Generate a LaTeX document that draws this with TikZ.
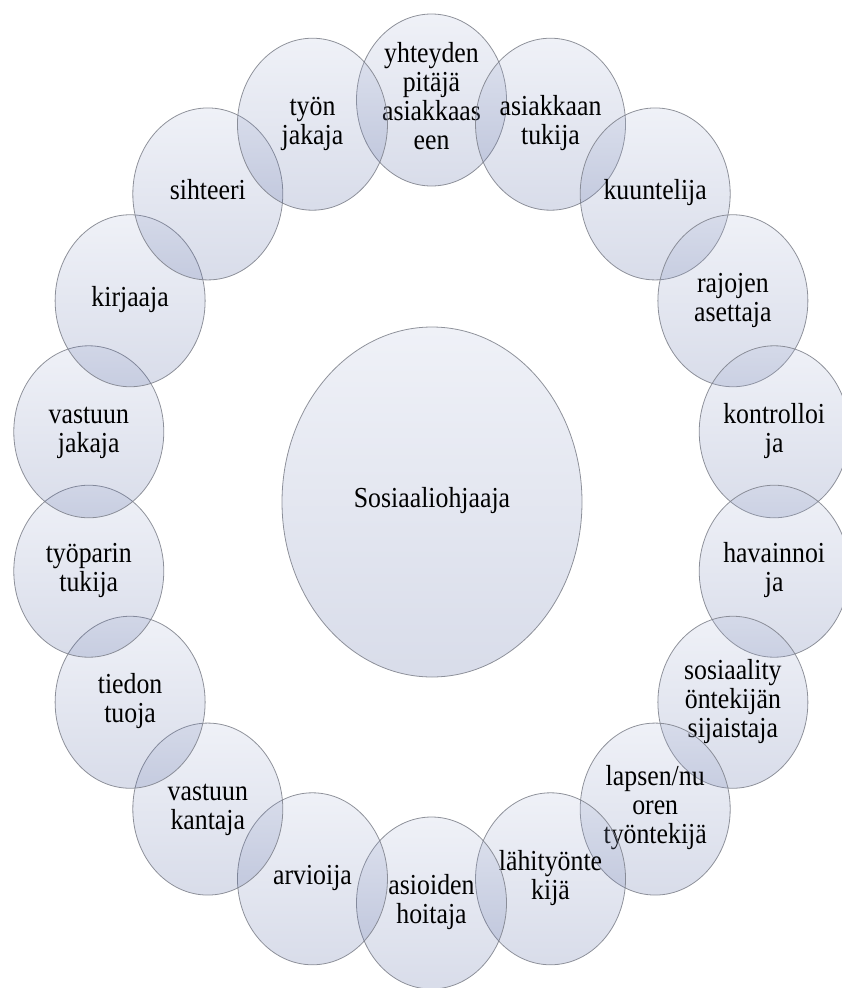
\documentclass[tikz,border=0pt]{standalone}
\usepackage{fontspec}
\setmainfont{Liberation Serif}
\newfontfamily\bubfont{Liberation Serif}
\usepackage{graphicx}
\usetikzlibrary{shapes.geometric}
\definecolor{bubtop}{RGB}{175,185,216}
\definecolor{bubbot}{RGB}{62,82,148}
\definecolor{bubline}{RGB}{125,128,138}
\newcommand{\lbl}[1]{\scalebox{0.89}[1]{\begin{tabular}{@{}c@{}}#1\end{tabular}}}
\begin{document}
\begin{tikzpicture}[x=1pt,y=-1pt,
  bubble/.style={ellipse, draw=bubline, line width=0.8pt,
    top color=bubtop, bottom color=bubbot, fill opacity=0.2,
    draw opacity=0.85, text opacity=1, inner sep=0pt,
    minimum width=150pt, minimum height=172pt,
    font=\bubfont\fontsize{29}{29}\selectfont},
  hub/.style={bubble, minimum width=300pt, minimum height=350pt}]
\useasboundingbox (0,0) rectangle (841,988);
\node[hub] (hub) at (432,502) {\lbl{Sosiaaliohjaaja}};
\foreach \a/\t [count=\i] in {
  90/{yhteyden\\pitäjä\\asiakkaas\\een},
  70/{asiakkaan\\tukija},
  50/{kuuntelija},
  30/{rajojen\\asettaja},
  10/{kontrolloi\\ja},
  -10/{havainnoi\\ja},
  -30/{sosiaality\\öntekijän\\sijaistaja},
  -50/{lapsen/nu\\oren\\työntekijä},
  -70/{lähityönte\\kijä},
  -90/{asioiden\\hoitaja},
  -110/{arvioija},
  -130/{vastuun\\kantaja},
  -150/{tiedon\\tuoja},
  -170/{työparin\\tukija},
  170/{vastuun\\jakaja},
  150/{kirjaaja},
  130/{sihteeri},
  110/{työn\\jakaja}}
{
  \node[bubble] (c\i) at ({431.5+348*cos(\a)},{501.5-401.5*sin(\a)}) {\lbl{\t}};
}
\end{tikzpicture}
\end{document}
